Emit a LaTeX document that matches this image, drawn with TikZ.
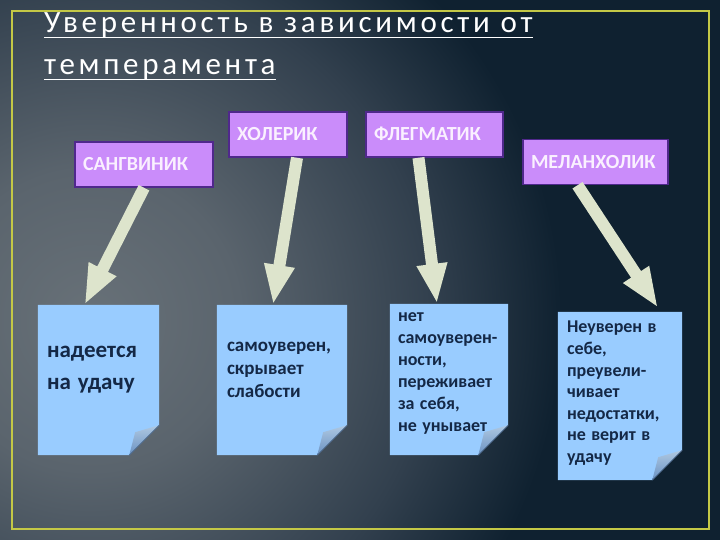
\documentclass[tikz,border=0pt]{standalone}
\usepackage{fontspec}
\setmainfont{Carlito}
\newfontfamily\titlefont[LetterSpace=12]{Carlito}
\usetikzlibrary{arrows.meta, positioning, calc}

\definecolor{slidenavy}{RGB}{15,33,48}
\definecolor{glowA}{RGB}{104,113,120}
\definecolor{glowB}{RGB}{90,100,109}
\definecolor{glowC}{RGB}{50,64,78}
\definecolor{framey}{RGB}{196,200,70}
\definecolor{boxfill}{RGB}{202,140,250}
\definecolor{boxedge}{RGB}{80,40,140}
\definecolor{boxtext}{RGB}{250,240,255}
\definecolor{paperblue}{RGB}{153,204,255}
\definecolor{foldlight}{RGB}{175,200,225}
\definecolor{folddark}{RGB}{105,145,195}
\definecolor{notetextc}{RGB}{20,40,70}
\definecolor{arrowfill}{RGB}{221,228,204}

\pgfdeclareradialshading{slideglow}{\pgfpoint{0bp}{0bp}}{color(0bp)=(glowA); color(150bp)=(glowB); color(340bp)=(glowC); color(470bp)=(slidenavy); color(800bp)=(slidenavy)}

\pgfdeclarelayer{backdrop}
\pgfdeclarelayer{paperlayer}
\pgfsetlayers{backdrop,paperlayer,main}

% sheet of paper with a turned-up corner behind a node
\newcommand{\notesheet}[1]{%
  \fill[paperblue] (#1.north west) -- (#1.north east) -- ([shift={(0,-30)}]#1.south east)
    -- ([shift={(-30,0)}]#1.south east) -- (#1.south west) -- cycle;
  \shade[top color=foldlight, bottom color=folddark] ([shift={(0,-30)}]#1.south east)
    -- ([shift={(-30,0)}]#1.south east) -- ([shift={(-24,-23)}]#1.south east) -- cycle;
  \draw[folddark!70!black, line width=0.6pt] ([shift={(0,-30)}]#1.south east) -- ([shift={(-30,0)}]#1.south east);
}

\tikzset{
  typebox/.style={rectangle, draw=boxedge, line width=1.5pt, fill=boxfill, text=boxtext,
    font=\fontsize{20}{22}\selectfont\bfseries, minimum height=45pt, inner xsep=8pt, align=left,
    text height=13pt, text depth=0pt},
  paper/.style={rectangle, inner sep=0pt},
  notetext/.style={text=notetextc, inner sep=0pt, anchor=base west, align=left,
    execute at begin node={\spaceskip=0.3em\relax}},
  bigarrow/.style={draw=arrowfill, line width=12pt, -{Triangle[length=40pt,width=28pt]}}
}

\begin{document}
\begin{tikzpicture}[x=1pt, y=-1pt]
  % background
  \begin{pgfonlayer}{backdrop}
    \fill[slidenavy] (0,0) rectangle (720,540);
    \begin{scope}
      \clip (0,0) rectangle (720,540);
      \node[inner sep=0pt] (glow) at (90,320) {\pgfuseshading{slideglow}};
    \end{scope}
    \draw[framey, line width=2pt] (12,11) rectangle (709,529);
  \end{pgfonlayer}
  \useasboundingbox (0,0) rectangle (720,540);

  % title
  \node[anchor=base west, inner sep=0pt, text=white, font=\titlefont\fontsize{31}{36}\selectfont] (title1) at (44,33) {Уверенность в зависимости от};
  \node[anchor=base west, inner sep=0pt, text=white, font=\titlefont\fontsize{31}{36}\selectfont] (title2) at (44,75) {темперамента};
  \draw[white, line width=1.5pt] ([yshift=-4.5pt]title1.base west) -- ([yshift=-4.5pt]title1.base east);
  \draw[white, line width=1.5pt] ([yshift=-4.5pt]title2.base west) -- ([yshift=-4.5pt]title2.base east);

  % temperaments
  \node[typebox, text width=122pt] (sang) at (144,164.5) {САНГВИНИК};
  \node[typebox, text width=102pt] (chol) at (288,134.5) {ХОЛЕРИК};
  \node[typebox, text width=121pt] (phleg) at (434.5,134.5) {ФЛЕГМАТИК};
  \node[typebox, text width=129pt] (melan) at (595.5,162) {МЕЛАНХОЛИК};

  % notes
  \node[paper, minimum width=121pt, minimum height=150pt] (n1) at (98.5,380) {};
  \node[paper, minimum width=130pt, minimum height=150pt] (n2) at (282,380) {};
  \node[paper, minimum width=118pt, minimum height=151pt] (n3) at (449,379.5) {};
  \node[paper, minimum width=124pt, minimum height=168pt] (n4) at (620,396) {};
  \begin{pgfonlayer}{paperlayer}
    \notesheet{n1}
    \notesheet{n2}
    \notesheet{n3}
    \notesheet{n4}
  \end{pgfonlayer}

  \node[notetext, text width=115pt, font=\fontsize{23}{32}\selectfont\bfseries] (n1t) at ([shift={(9,53)}]n1.north west) {надеется\\на удачу};
  \node[notetext, text width=122pt, font=\fontsize{19}{23}\selectfont\bfseries] (n2t) at ([shift={(10,47)}]n2.north west) {самоуверен,\\скрывает\\слабости};
  \node[notetext, text width=112pt, font=\fontsize{18}{22}\selectfont\bfseries] (n3t) at ([shift={(8,18)}]n3.north west) {нет\\самоуверен-\\ности,\\переживает\\за себя,\\не унывает};
  \node[notetext, text width=118pt, font=\fontsize{18}{21.6}\selectfont\bfseries] (n4t) at ([shift={(9,21)}]n4.north west) {Неуверен в\\себе,\\преувели-\\чивает\\недостатки,\\не верит в\\удачу};

  % arrows
  \draw[bigarrow] (sang.south) -- ([shift={(-14,0)}]n1.north);
  \draw[bigarrow] ([shift={(9,0)}]chol.south) -- ([shift={(-9,0)}]n2.north);
  \draw[bigarrow] ([shift={(-16,0)}]phleg.south) -- ([shift={(-12,0)}]n3.north);
  \draw[bigarrow] ([shift={(-18,0)}]melan.south) -- ([shift={(38,-4)}]n4.north);
\end{tikzpicture}
\end{document}
